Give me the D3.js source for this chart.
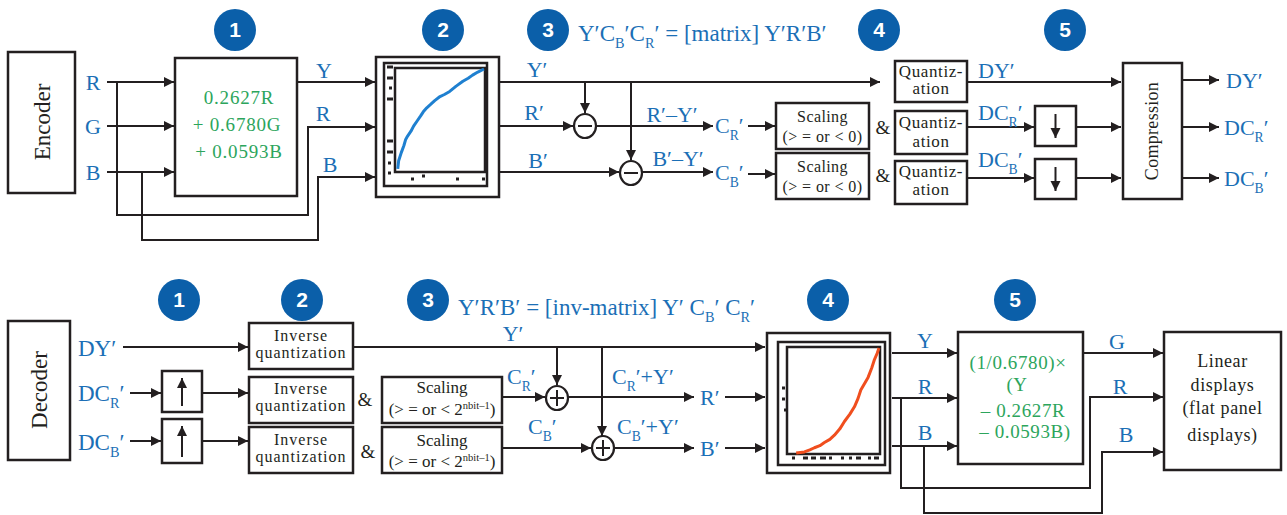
<!DOCTYPE html>
<html lang="en">
<head>
<meta charset="UTF-8">
<title>Encoder / decoder block diagram</title>
<style>
body { margin:0; background:#fff; }
text { font-family: "Liberation Serif", "DejaVu Serif", serif; }
.wire { fill:none; stroke:#231f20; stroke-width:2; }
.box { fill:#fff; stroke:#231f20; stroke-width:2.5; }
.blue { fill:#1b6fb6; }
.green { fill:#2ca55c; }
.dark { fill:#231f20; }
.badge { fill:#0b5fa9; }
</style>
</head>
<body>
<svg id="chart" width="1287" height="515"></svg>
<script src="https://cdn.jsdelivr.net/npm/d3@7"></script>
<script>
/* global d3 */

// ---- values ----
var steps = ["1", "2", "3", "4", "5"];
var encInputs = ["R", "G", "B"];
var lumaFormula = ["0.2627R", "+ 0.6780G", "+ 0.0593B"];
var invFormula = ["(1/0.6780)×", "(Y", "– 0.2627R", "– 0.0593B)"];
var matrixEq = "Y′C_B′C_R′ = [matrix] Y′R′B′";
var invMatrixEq = "Y′R′B′ = [inv-matrix] Y′ C_B′ C_R′";
var quantLines = ["Quantiz-", "ation"];
var invQuantLines = ["Inverse", "quantization"];
var scaleEnc = ["Scaling", "(> = or < 0)"];
var scaleDec = ["Scaling", "(> = or < 2^{nbit–1})"];
var displayLines = ["Linear", "displays", "(flat panel", "displays)"];
// transfer curves (normalised input, normalised output)
var oetfPts = [[0.02,0.02],[0.03,0.10],[0.06,0.18],[0.09,0.25],[0.11,0.31],[0.13,0.34],[0.17,0.39],
  [0.20,0.44],[0.24,0.49],[0.28,0.54],[0.31,0.58],[0.35,0.62],[0.39,0.65],[0.44,0.69],[0.50,0.73],
  [0.55,0.75],[0.61,0.78],[0.68,0.83],[0.76,0.88],[0.82,0.91],[0.87,0.94],[0.93,0.97],[1.0,1.0]];
var eotfPts = [[0.09,0.0],[0.18,0.01],[0.24,0.03],[0.29,0.05],[0.35,0.07],[0.40,0.10],[0.46,0.13],
  [0.51,0.17],[0.57,0.23],[0.62,0.30],[0.68,0.37],[0.73,0.44],[0.77,0.52],[0.80,0.60],[0.84,0.66],
  [0.88,0.72],[0.92,0.81],[0.95,0.89],[0.98,0.95],[1.0,1.0]];

// ---- layout ----
var FONT = "'Liberation Serif','DejaVu Serif',serif";
var svg = d3.select("#chart");
svg.append("rect").attr("width", 1287).attr("height", 515).attr("fill", "#fff");

var defs = svg.append("defs");
defs.append("marker").attr("id", "arr")
  .attr("markerUnits", "userSpaceOnUse")
  .attr("markerWidth", 11).attr("markerHeight", 11)
  .attr("refX", 10).attr("refY", 5).attr("orient", "auto")
  .append("path").attr("d", "M0,0L10,5L0,10z").attr("fill", "#231f20");

// mini markup: _X or _{..} subscript, ^{..} superscript
function parts(s) {
  var out = [], re = /(_\{[^}]*\}|_.|\^\{[^}]*\})/g, last = 0, m;
  while ((m = re.exec(s))) {
    if (m.index > last) out.push({t: s.slice(last, m.index), k: ""});
    var tok = m[0];
    var body = tok[1] === "{" ? tok.slice(2, -1) : tok.slice(1);
    out.push({t: body, k: tok[0] === "_" ? "sub" : "sup"});
    last = re.lastIndex;
  }
  if (last < s.length) out.push({t: s.slice(last), k: ""});
  return out;
}

function label(str, x, y, o) {
  o = o || {};
  var size = o.size || 22;
  var t = svg.append("text").attr("x", x).attr("y", y)
    .attr("class", o.cls || "blue")
    .attr("font-family", FONT)
    .attr("font-size", size)
    .attr("text-anchor", o.anchor || "start");
  if (o.ls) t.attr("letter-spacing", o.ls);
  if (o.rot) t.attr("transform", "rotate(" + o.rot + "," + x + "," + y + ")");
  var shift = 0;
  parts(str).forEach(function (p) {
    var s = p.k === "sub" ? size * 0.3 : p.k === "sup" ? -size * 0.35 : 0;
    var ts = t.append("tspan").text(p.t).attr("dy", s - shift);
    if (p.k) ts.attr("font-size", size * 0.62);
    shift = s;
  });
  return t;
}

function box(b, sw) {
  svg.append("rect").attr("class", "box")
    .attr("x", b[0]).attr("y", b[1]).attr("width", b[2]).attr("height", b[3])
    .attr("stroke-width", sw || 2.5);
}

function lines(list, b, ys, o) {
  list.forEach(function (s, i) {
    label(s, b[0] + b[2] / 2, ys[i], Object.assign({anchor: "middle", cls: "dark"}, o));
  });
}

var line = d3.line();
function wire(pts, arrow) {
  svg.append("path").attr("class", "wire").attr("d", line(pts))
    .attr("marker-end", arrow === false ? null : "url(#arr)");
}

function badge(n, cx, cy) {
  svg.append("circle").attr("class", "badge").attr("cx", cx).attr("cy", cy).attr("r", 21);
  svg.append("text").attr("x", cx).attr("y", cy + 7).attr("text-anchor", "middle")
    .style("font-family", "'Liberation Sans',Arial,sans-serif").attr("font-weight", "bold")
    .attr("font-size", 21).attr("fill", "#fff").text(n);
}

function op(cx, cy, plus) {
  svg.append("ellipse").attr("cx", cx).attr("cy", cy).attr("rx", 11).attr("ry", 12)
    .attr("fill", "#fff").attr("stroke", "#231f20").attr("stroke-width", 2.2);
  wire([[cx - 7, cy], [cx + 7, cy]], false);
  if (plus) wire([[cx, cy - 8], [cx, cy + 8]], false);
}

function transferBox(outer, inner, plot, pts, color, ticks) {
  box(outer, 2.2);
  box(inner, 2.5);
  box(plot, 2.5);
  var x = d3.scaleLinear().domain([0, 1]).range([plot[0] + 1, plot[0] + plot[2] - 1]);
  var y = d3.scaleLinear().domain([0, 1]).range([plot[1] + plot[3] - 1, plot[1] + 1]);
  svg.append("path").attr("fill", "none").attr("stroke", color).attr("stroke-width", 3)
    .attr("stroke-linejoin", "round")
    .attr("d", d3.line().x(function (d) { return x(d[0]); }).y(function (d) { return y(d[1]); })(pts));
  ticks.forEach(function (t) {
    svg.append("rect").attr("x", t[0]).attr("y", t[1] - 1.5).attr("width", t[2]).attr("height", 3).attr("fill", "#231f20");
  });
}

function updown(b, up) {
  box(b, 2.5);
  var cx = b[0] + b[2] / 2;
  if (up) wire([[cx, b[1] + b[3] - 6], [cx, b[1] + 7]]);
  else wire([[cx, b[1] + 8], [cx, b[1] + b[3] - 8]]);
}

// ================= ENCODER =================
var topBadges = [235, 443, 548, 879, 1065];
steps.forEach(function (s, i) { badge(s, topBadges[i], 30); });
label(matrixEq, 578, 41, {size: 23});

box([8, 52, 67, 141], 2.2);
label("Encoder", 50, 122, {cls: "dark", size: 23, anchor: "middle", rot: -90});

var rowY = [82, 126, 172];
encInputs.forEach(function (c, i) {
  label(c, 93, rowY[i] + 8, {anchor: "middle"});
  wire([[107, rowY[i]], [174, rowY[i]]]);
});
wire([[117, 82], [117, 215], [308, 215], [308, 127], [375, 127]]);
wire([[142, 172], [142, 240], [318, 240], [318, 177], [375, 177]]);

box([175, 58, 122, 138], 2.5);
lumaFormula.forEach(function (s, i) {
  label(s, [239, 237, 239][i], [104, 131, 158][i], {cls: "green", size: 19, anchor: "middle", ls: 0.8});
});
wire([[297, 82], [375, 82]]);
label("Y", 324, 78, {anchor: "middle"});
label("R", 323, 121, {anchor: "middle"});
label("B", 330, 172, {anchor: "middle"});

transferBox([376, 57, 123, 140], [384, 63, 103, 123], [395, 68, 90, 104], oetfPts, "#1f80d0",
  [[387, 67, 6], [387, 78, 6], [389, 88, 3], [387, 99, 6], [387, 141, 6], [387, 152, 6], [388, 163, 3], [388, 173, 3],
   [411, 179, 3], [422, 176, 3], [456, 179, 3], [482, 179, 3]]);

// Y' trunk and colour differences
wire([[499, 82], [880, 82]]);
label("Y′", 537, 77, {anchor: "middle"});
wire([[585, 82], [585, 113]]);
wire([[631, 82], [631, 160]]);
wire([[499, 126], [573, 126]]);
label("R′", 534, 120, {anchor: "middle"});
op(585, 126, false);
wire([[596, 126], [713, 126]]);
label("R′–Y′", 672, 122, {anchor: "middle"});
wire([[499, 172], [619, 172]]);
label("B′", 538, 168, {anchor: "middle"});
op(631, 173, false);
wire([[642, 172], [713, 172]]);
label("B′–Y′", 678, 166, {anchor: "middle"});
label("C_R′", 715, 133);
label("C_B′", 715, 180);
wire([[748, 126], [775, 126]]);
wire([[748, 174], [775, 174]]);

box([776, 103, 93, 46]); lines(scaleEnc, [776, 103, 93, 46], [122, 142], {size: 16, ls: 0.4});
box([776, 153, 93, 46]); lines(scaleEnc, [776, 153, 93, 46], [172, 192], {size: 16, ls: 0.4});
label("&", 883, 134, {cls: "dark", size: 19, anchor: "middle"});
label("&", 883, 182, {cls: "dark", size: 19, anchor: "middle"});

[[895, 61, 72, 41], [895, 111, 72, 43], [895, 161, 72, 43]].forEach(function (b, i) {
  box(b, 3);
  var ys = [[77, 94], [128, 147], [177, 195]][i];
  lines(quantLines, b, ys, {size: 17, ls: 0.6});
});

wire([[967, 82], [1121, 82]]);
label("DY′", 978, 78);
wire([[967, 127], [1034, 127]]);
label("DC_R′", 978, 120);
wire([[967, 178], [1034, 178]]);
label("DC_B′", 978, 167);
updown([1035, 106, 41, 40], false);
updown([1035, 159, 41, 40], false);
wire([[1076, 127], [1121, 127]]);
wire([[1076, 178], [1121, 178]]);

box([1123, 63, 59, 136], 2.2);
label("Compression", 1158, 131, {cls: "dark", size: 18, anchor: "middle", rot: -90, ls: 0.3});
[80, 127, 178].forEach(function (y) { wire([[1182, y], [1219, y]]); });
label("DY′", 1226, 88);
label("DC_R′", 1224, 135);
label("DC_B′", 1224, 186);

// ================= DECODER =================
var botBadges = [179, 302, 428, 828, 1015];
steps.forEach(function (s, i) { badge(s, botBadges[i], 300); });
label(invMatrixEq, 458, 315, {size: 23});

box([8, 321, 62, 139], 2.2);
label("Decoder", 47, 390, {cls: "dark", size: 23, anchor: "middle", rot: -90});

label("DY′", 78, 356, {size: 23});
label("DC_R′", 78, 401, {size: 23});
label("DC_B′", 78, 450, {size: 23});
wire([[123, 347], [248, 347]]);
wire([[130, 393], [161, 393]]);
wire([[130, 441], [161, 441]]);
updown([162, 371, 40, 41], true);
updown([162, 419, 40, 44], true);
wire([[202, 393], [248, 393]]);
wire([[202, 441], [248, 441]]);

[[249, 323, 104, 46], [249, 377, 104, 46], [249, 427, 104, 46]].forEach(function (b, i) {
  box(b, 2.5);
  var ys = [[341, 358], [394, 411], [445, 462]][i];
  lines(invQuantLines, b, ys, {size: 16, ls: 1});
});
label("&", 365, 406, {cls: "dark", size: 19, anchor: "middle"});
label("&", 368, 458, {cls: "dark", size: 19, anchor: "middle"});
box([382, 377, 120, 46]); lines(scaleDec, [382, 377, 120, 46], [393, 415], {size: 17});
box([382, 427, 120, 46]); lines(scaleDec, [382, 427, 120, 46], [446, 467], {size: 17});

wire([[353, 347], [765, 347]]);
label("Y′", 513, 341, {anchor: "middle"});
wire([[557, 347], [557, 385]]);
wire([[602, 347], [602, 436]]);
wire([[502, 397], [545, 397]]);
op(557, 398, true);
wire([[568, 397], [694, 397]]);
label("C_R′", 507, 384);
label("C_R′+Y′", 612, 384);
wire([[502, 448], [591, 448]]);
op(603, 448, true);
wire([[614, 448], [694, 448]]);
label("C_B′", 528, 434);
label("C_B′+Y′", 617, 434);
label("R′", 700, 405);
label("B′", 700, 456);
wire([[725, 397], [765, 397]]);
wire([[725, 448], [765, 448]]);

transferBox([767, 333, 123, 140], [778, 342, 107, 123], [787, 347, 93, 107], eotfPts, "#f04e1e",
  [[782, 388, 3], [782, 399, 3], [784, 410, 3],
   [792, 458, 3], [803, 458, 5], [811, 458, 5], [820, 458, 6], [829, 458, 3], [841, 458, 3],
   [849, 458, 3], [856, 458, 5], [868, 458, 3], [874, 458, 5]]);

wire([[892, 353], [957, 353]]);
wire([[892, 398], [957, 398]]);
wire([[892, 446], [957, 446]]);
label("Y", 925, 348, {anchor: "middle"});
label("R", 925, 394, {anchor: "middle"});
label("B", 925, 440, {anchor: "middle"});
wire([[901, 398], [901, 488], [1090, 488], [1090, 397], [1163, 397]]);
wire([[924, 446], [924, 513], [1102, 513], [1102, 452], [1163, 452]]);

box([958, 332, 125, 132], 2.5);
invFormula.forEach(function (s, i) {
  label(s, [1018, 1017, 1023, 1025][i], [369, 391, 417, 438][i], {cls: "green", size: 19, anchor: "middle", ls: 0.6});
});
wire([[1083, 353], [1163, 353]]);
label("G", 1117, 349, {anchor: "middle"});
label("R", 1120, 394, {anchor: "middle"});
label("B", 1126, 442, {anchor: "middle"});

box([1164, 332, 117, 138], 2.2);
lines(displayLines, [1164, 332, 117, 138], [367, 391, 414, 441], {size: 18, ls: 0.6});
</script>
</body>
</html>
